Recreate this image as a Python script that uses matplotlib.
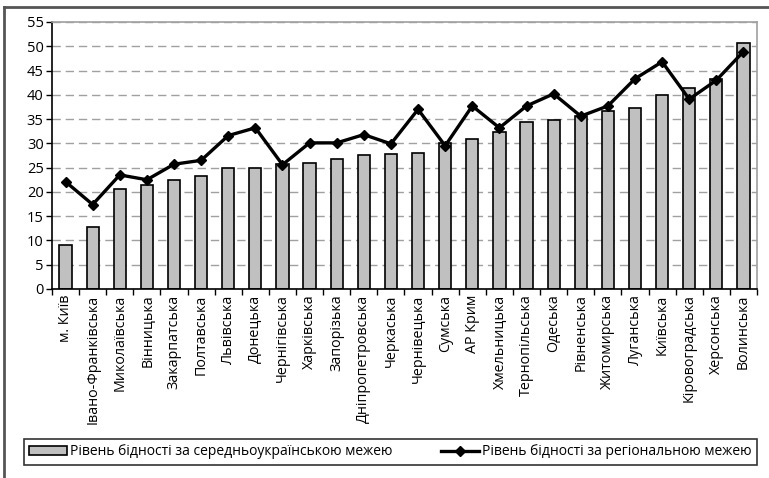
import numpy as np
import matplotlib
matplotlib.use('Agg')
import matplotlib.pyplot as plt
from matplotlib.lines import Line2D

plt.rcParams['font.family'] = ['Open Sans', 'DejaVu Sans']

# regions, sorted by poverty level
regions = ['м. Київ', 'Івано-Франківська', 'Миколаївська', 'Вінницька', 'Закарпатська',
           'Полтавська', 'Львівська', 'Донецька', 'Чернігівська', 'Харківська',
           'Запорізька', 'Дніпропетровська', 'Черкаська', 'Чернівецька', 'Сумська',
           'АР Крим', 'Хмельницька', 'Тернопільська', 'Одеська', 'Рівненська',
           'Житомирська', 'Луганська', 'Київська', 'Кіровоградська', 'Херсонська',
           'Волинська']
# poverty by national line
avg_line = [9.0, 12.8, 20.5, 21.4, 22.4, 23.3, 24.9, 24.9, 25.7, 26.0,
            26.7, 27.5, 27.8, 28.1, 30.1, 30.8, 32.4, 34.3, 34.8, 35.7,
            36.7, 37.2, 39.9, 41.5, 43.2, 50.6]
# poverty by regional line
reg_line = [22.1, 17.4, 23.5, 22.5, 25.7, 26.5, 31.6, 33.2, 25.6, 30.1,
            30.1, 31.8, 29.9, 37.0, 29.5, 37.7, 33.2, 37.7, 40.2, 35.6,
            37.7, 43.3, 46.8, 39.1, 43.0, 48.9]

label_avg = 'Рівень бідності за середньоукраїнською межею'
label_reg = 'Рівень бідності за регіональною межею'

fig = plt.figure(figsize=(7.69, 4.78), dpi=100)
ax = fig.add_axes([0.0676, 0.3954, 0.9168, 0.5586])

x = np.arange(len(regions))
bars = ax.bar(x, avg_line, width=0.45, color='#c0c0c0', edgecolor='black', linewidth=1.2,
              label=label_avg, zorder=2)
line, = ax.plot(x, reg_line, color='black', linewidth=2.4, marker='D', markersize=5.5,
                label=label_reg, zorder=3)

ax.set_xlim(-0.5, len(regions) - 0.5)
ax.set_ylim(0, 55)
ax.set_yticks(range(0, 56, 5))
ax.yaxis.grid(True, linestyle=(0, (6, 3.5)), color='#a0a0a0', linewidth=1, zorder=0)
ax.set_axisbelow(True)

ax.set_xticks(x)
ax.set_xticklabels(regions, rotation=90, fontsize=10.3)
ax.set_xticks(np.arange(-0.5, len(regions)), minor=True)
ax.tick_params(axis='x', which='major', length=0, pad=4)
ax.tick_params(axis='x', which='minor', length=4, width=1, direction='out')
ax.tick_params(axis='y', length=4, width=1, labelsize=10.5, pad=2)

for s in ['top', 'right']:
    ax.spines[s].set_color('#a0a0a0')
    ax.spines[s].set_linewidth(1.2)
ax.spines['left'].set_linewidth(1.2)
ax.spines['bottom'].set_linewidth(1.2)

leg = fig.legend([bars, line], [label_avg, label_reg], loc='center', ncol=2,
                 bbox_to_anchor=(0.031, 0.021, 0.953, 0.067), mode='expand',
                 frameon=True, fancybox=False, edgecolor='black', fontsize=10,
                 handlelength=2.7, handletextpad=0.2, columnspacing=1.0,
                 borderaxespad=0)
leg.get_frame().set_linewidth(1.2)

# outer frame of the figure
fig.add_artist(Line2D([0.0052, 0.0052], [0, 0.985], color='#555555', linewidth=2))
fig.add_artist(Line2D([0.0052, 1], [0.985, 0.985], color='#555555', linewidth=2))

plt.savefig('out.png', dpi=100)
